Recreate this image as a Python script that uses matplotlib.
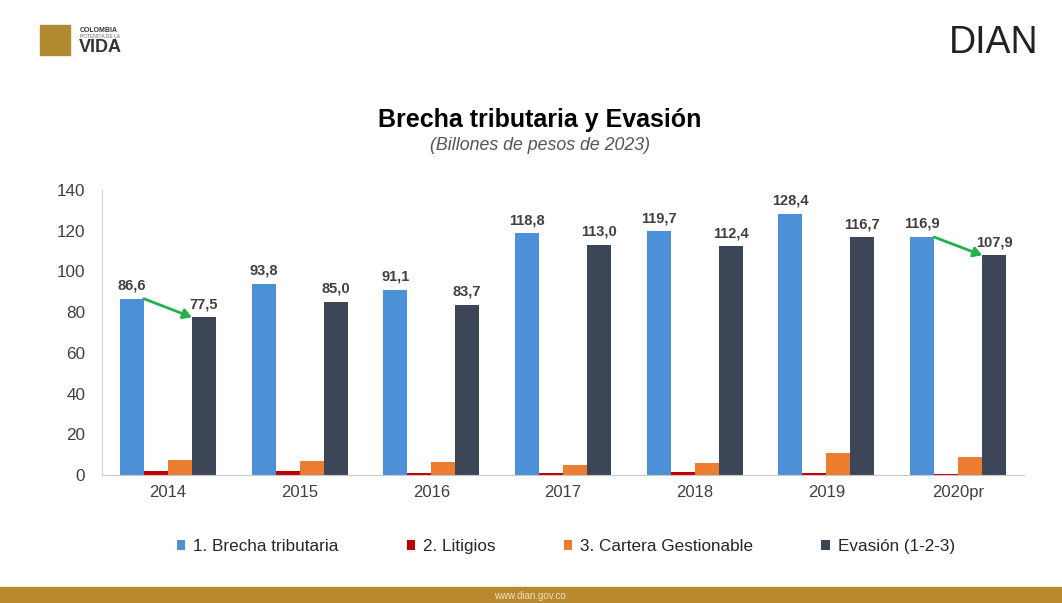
import matplotlib
matplotlib.use("Agg")
import matplotlib.pyplot as plt
from matplotlib.patches import Rectangle, FancyArrowPatch
import numpy as np

years = ["2014", "2015", "2016", "2017", "2018", "2019", "2020pr"]
brecha = [86.6, 93.8, 91.1, 118.8, 119.7, 128.4, 116.9]
litigios = [1.9, 1.9, 0.9, 0.8, 1.5, 0.8, 0.4]
cartera = [7.2, 6.9, 6.5, 5.0, 5.8, 10.9, 8.6]
evasion = [77.5, 85.0, 83.7, 113.0, 112.4, 116.7, 107.9]
labels_brecha = ["86,6", "93,8", "91,1", "118,8", "119,7", "128,4", "116,9"]
labels_evasion = ["77,5", "85,0", "83,7", "113,0", "112,4", "116,7", "107,9"]
series_names = ["1. Brecha tributaria", "2. Litigios", "3. Cartera Gestionable", "Evasión (1-2-3)"]
yticks = [0, 20, 40, 60, 80, 100, 120, 140]

colors = ["#4C90D8", "#C00000", "#ED7D31", "#3D4657"]

plt.rcParams['font.family'] = ['Liberation Sans', 'DejaVu Sans']

fig = plt.figure(figsize=(10.62, 6.03), dpi=100)
fig.patch.set_facecolor("white")

W, H = 1062, 603
def fx(px): return px / W
def fy(py): return 1 - py / H

ax = fig.add_axes([fx(102), fy(475), fx(1024) - fx(102), fy(190) - fy(475)])
x = np.arange(len(years))
bw = 0.182
data = [brecha, litigios, cartera, evasion]
offsets = [-1.5, -0.5, 0.5, 1.5]
for d, off, c, name in zip(data, offsets, colors, series_names):
    ax.bar(x + off * bw, d, width=bw, color=c, label=name, zorder=2)

for i in range(len(years)):
    ax.text(x[i] - 1.5 * bw, brecha[i] + 3, labels_brecha[i], ha="center", va="bottom",
            fontsize=10.5, fontweight="bold", color="#404040")
    ax.text(x[i] + 1.5 * bw, evasion[i] + 3, labels_evasion[i], ha="center", va="bottom",
            fontsize=10.5, fontweight="bold", color="#404040")

for i in [0, 6]:
    arr = FancyArrowPatch((x[i] - 1.0 * bw, brecha[i]), (x[i] + 1.0 * bw, evasion[i]),
                          arrowstyle="-|>,head_length=5,head_width=3", color="#22B14C",
                          lw=2, zorder=5, shrinkA=0, shrinkB=0)
    ax.add_patch(arr)

ax.set_xlim(-0.5, len(years) - 0.5)
ax.set_ylim(0, 140)
ax.set_yticks(yticks)
ax.set_yticklabels([str(v) for v in yticks], fontsize=12.3, color="#404040")
ax.set_xticks(x)
ax.set_xticklabels(years, fontsize=12, color="#404040")
ax.tick_params(axis="y", length=0, pad=12)
ax.tick_params(axis="x", length=0, pad=7)
for s in ["top", "right"]:
    ax.spines[s].set_visible(False)
ax.spines["left"].set_color("#D0D0D0")
ax.spines["bottom"].set_color("#C8C8C8")

leg = ax.legend(loc="upper center", bbox_to_anchor=(0.503, -0.172), ncol=4, frameon=False,
                fontsize=12.3, handlelength=0.5, handleheight=0.5, columnspacing=4.0,
                handletextpad=0.45, labelcolor="#262626")

fig.text(fx(540), fy(120), "Brecha tributaria y Evasión", ha="center", va="center",
         fontsize=18, fontweight="heavy", color="black")
fig.text(fx(540), fy(146), "(Billones de pesos de 2023)", ha="center", va="center",
         fontsize=12.8, style="italic", color="#555555")

# Header logos
fig.patches.append(Rectangle((fx(40), fy(55)), fx(30), fy(25) - fy(55),
                             transform=fig.transFigure, color="#B08A2E", zorder=1))
fig.text(fx(80), fy(30), "COLOMBIA", fontsize=5, fontweight="bold", color="#333333", va="center")
fig.text(fx(80), fy(37), "POTENCIA DE LA", fontsize=3.5, color="#666666", va="center")
fig.text(fx(79), fy(47), "VIDA", fontsize=13, fontweight="bold", color="#333333", va="center")
fig.text(fx(994), fy(43), "DIAN", fontsize=27, color="#222222", ha="center", va="center")

# Footer band
fig.patches.append(Rectangle((0, 0), 1, fy(587), transform=fig.transFigure,
                             color="#B8892E", zorder=1))
fig.text(fx(530), fy(596), "www.dian.gov.co", fontsize=7, color="#F0E0C0", ha="center", va="center")

fig.savefig("out.png", dpi=100)
